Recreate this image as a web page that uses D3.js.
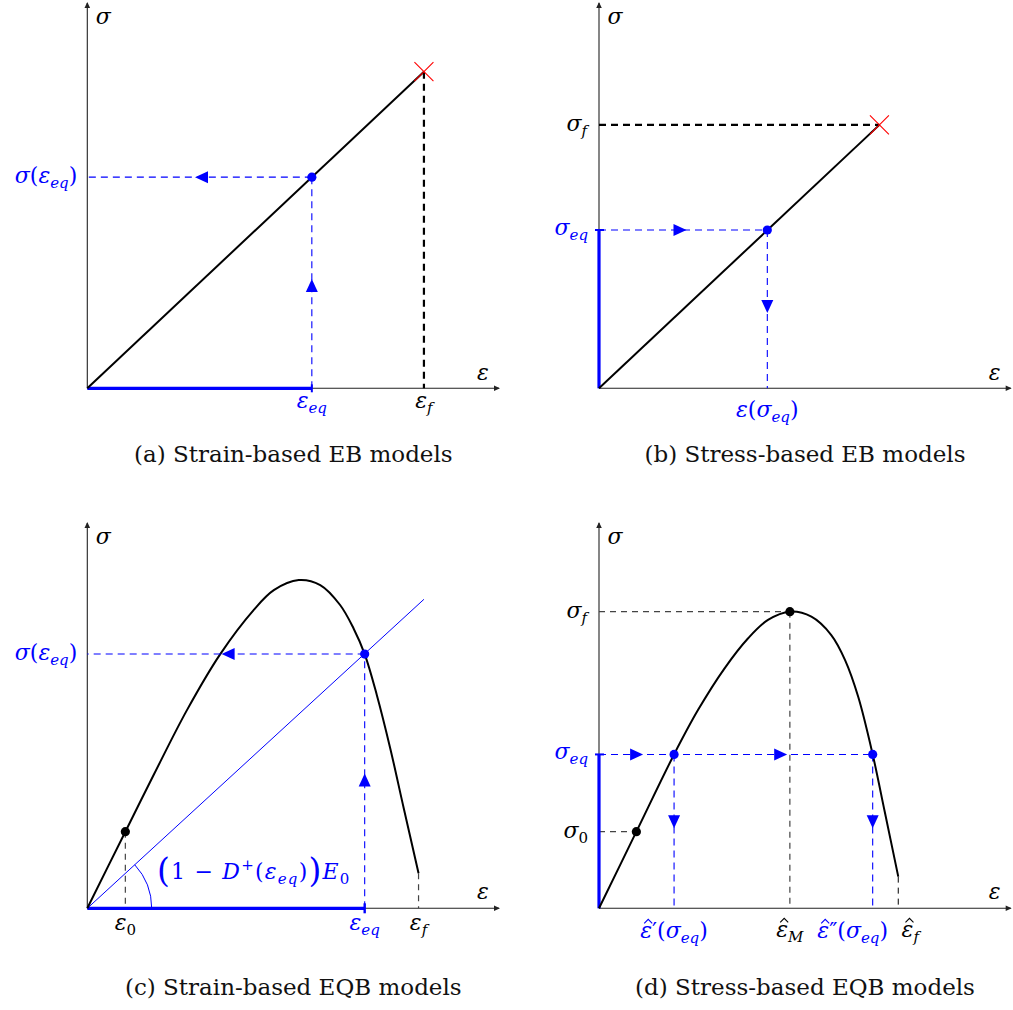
<!DOCTYPE html>
<html>
<head>
<meta charset="utf-8">
<script src="https://cdn.jsdelivr.net/npm/d3@7"></script>
<style>
  body { margin: 0; background: #fff; overflow: hidden; }
  text { font-family: "DejaVu Serif", serif; }
</style>
</head>
<body>
<script>
// values are read off the figure, in (strain, stress) units where the
// EB failure point of panel (a) is (1, 1)

// (a) strain-based EB
const aLine = [[0, 0], [1, 1]];
const aEq = [0.667, 0.667];
// (b) stress-based EB
const bLine = [[0, 0], [0.833, 0.832]];
const bEq = [0.5, 0.5];
// (c) strain-based EQB
const cCurve = [[0, 0], [0.113, 0.242], [0.197, 0.421], [0.296, 0.626], [0.395, 0.803],
  [0.494, 0.942], [0.554, 1.005], [0.628, 1.037], [0.692, 1.021], [0.751, 0.958],
  [0.791, 0.884], [0.824, 0.803], [0.860, 0.674], [0.900, 0.505], [0.940, 0.316],
  [0.984, 0.111]];
const cSecant = [[0, 0], [1.0, 0.976]];
const cEq = [0.824, 0.803];
const cStart = [0.113, 0.242];
// (d) stress-based EQB
const dCurve = [[0, 0], [0.111, 0.242], [0.223, 0.486], [0.294, 0.626], [0.373, 0.758],
  [0.443, 0.853], [0.502, 0.911], [0.567, 0.937], [0.631, 0.921], [0.690, 0.863],
  [0.731, 0.784], [0.770, 0.668], [0.813, 0.486], [0.849, 0.304], [0.889, 0.100]];
const dStart = [0.111, 0.242];
const dPeak = [0.567, 0.937];
const dEq = [[0.223, 0.486], [0.813, 0.486]];

const captions = ["(a) Strain-based EB models", "(b) Stress-based EB models",
  "(c) Strain-based EQB models", "(d) Stress-based EQB models"];

// labels as [text, kind] runs
const lblSigma = [["σ", "i"]];
const lblEps = [["ε", "i"]];
const lblSigmaOfEps = [["σ", "i"], ["(", "r"], ["ε", "i"], ["eq", "sub"], [")", "r"]];
const lblEpsEq = [["ε", "i"], ["eq", "sub"]];
const lblEpsF = [["ε", "i"], ["f", "sub"]];
const lblSigmaF = [["σ", "i"], ["f", "sub"]];
const lblSigmaEq = [["σ", "i"], ["eq", "sub"]];
const lblEpsOfSigma = [["ε", "i"], ["(", "r"], ["σ", "i"], ["eq", "sub"], [")", "r"]];
const lblEps0 = [["ε", "i"], ["0", "subr"]];
const lblSigma0 = [["σ", "i"], ["0", "subr"]];
const lblSecant = [["(", "big"], ["1 − ", "r"], ["D", "i"], ["+", "sup"], ["(", "r"], ["ε", "i"],
  ["eq", "sub"], [")", "r"], [")", "big"], ["E", "i"], ["0", "subr"]];
const lblEpsHat1 = [["ε", "hat"], ["′", "r"], ["(", "r"], ["σ", "i"], ["eq", "sub"], [")", "r"]];
const lblEpsHatM = [["ε", "hat"], ["M", "sub"]];
const lblEpsHat2 = [["ε", "hat"], ["″", "r"], ["(", "r"], ["σ", "i"], ["eq", "sub"], [")", "r"]];
const lblEpsHatF = [["ε", "hat"], ["f", "sub"]];

const BLUE = "#0000ff";
const W = 1013, H = 1010;

const svg = d3.select("body").append("svg")
  .attr("width", W)
  .attr("height", H);

const runKinds = {
  i: {size: 22, italic: true, dy: 0},
  hat: {size: 22, italic: true, dy: 0},
  r: {size: 22, italic: false, dy: 0},
  sub: {size: 15, italic: true, dy: 5},
  subr: {size: 15, italic: false, dy: 5},
  sup: {size: 15, italic: false, dy: -9},
  big: {size: 33, italic: false, dy: 3}
};

function mathLabel(g, x, y, runs, anchor, color, spacing) {
  const t = g.append("text")
    .attr("x", x).attr("y", y)
    .attr("text-anchor", anchor)
    .attr("letter-spacing", spacing || null)
    .attr("fill", color || "#000");
  let shift = 0, idx = 0;
  const hats = [];
  runs.forEach(([txt, kind]) => {
    const k = runKinds[kind];
    t.append("tspan")
      .attr("dy", k.dy - shift)
      .attr("font-size", k.size)
      .attr("font-style", k.italic ? "italic" : "normal")
      .text(txt);
    if (kind === "hat") hats.push(idx);
    idx += txt.length;
    shift = k.dy;
  });
  // circumflex accents drawn over the glyph box
  hats.forEach(i => {
    const b = t.node().getExtentOfChar(i);
    const cx = b.x + b.width / 2 + 2;
    const cy = y - 15;
    g.append("path")
      .attr("d", `M${cx - 4},${cy}L${cx},${cy - 4}L${cx + 4},${cy}`)
      .attr("fill", "none")
      .attr("stroke", color || "#000")
      .attr("stroke-width", 1.1);
  });
  return t;
}

// scales for one panel, origin in pixels
function makeScales(ox, oy) {
  const x = d3.scaleLinear().domain([0, 1.223]).range([ox, ox + 411.7]);
  const y = d3.scaleLinear().domain([0, 1.217]).range([oy, oy - 385.3]);
  return {x, y};
}

function seg(g, x, y, p, q, style) {
  return g.append("line")
    .attr("x1", x(p[0])).attr("y1", y(p[1]))
    .attr("x2", x(q[0])).attr("y2", y(q[1]))
    .attr("stroke", style.color)
    .attr("stroke-width", style.width)
    .attr("stroke-dasharray", style.dash || null);
}

// filled triangle, tip at (px, py), pointing along dir
function arrowHead(g, px, py, dir, len, half, color) {
  const dirs = {up: [0, -1], down: [0, 1], left: [-1, 0], right: [1, 0]};
  const [ux, uy] = dirs[dir];
  const bx = px - ux * len, by = py - uy * len;
  const pts = [[px, py], [bx - uy * half, by + ux * half], [bx + uy * half, by - ux * half]];
  g.append("path")
    .attr("d", "M" + pts.map(p => p.join(",")).join("L") + "Z")
    .attr("fill", color);
}

function axes(g, s) {
  const ax = {color: "#222", width: 1.1};
  seg(g, s.x, s.y, [0, 0], [1.223, 0], ax);
  seg(g, s.x, s.y, [0, 0], [0, 1.217], ax);
  arrowHead(g, s.x(1.223) + 1, s.y(0), "right", 6, 2.8, "#222");
  arrowHead(g, s.x(0), s.y(1.217) - 1, "up", 6, 2.8, "#222");
  mathLabel(g, s.x(0) + 16, s.y(1.217) + 21, lblSigma, "middle");
}

function dot(g, s, p, color) {
  g.append("circle")
    .attr("cx", s.x(p[0])).attr("cy", s.y(p[1]))
    .attr("r", 4.6).attr("fill", color);
}

function cross(g, s, p) {
  const cx = s.x(p[0]), cy = s.y(p[1]), r = 9.5;
  g.append("path")
    .attr("d", `M${cx - r},${cy - r}L${cx + r},${cy + r}M${cx - r},${cy + r}L${cx + r},${cy - r}`)
    .attr("stroke", "red").attr("stroke-width", 1.1).attr("fill", "none");
}

function caption(g, s, text, baseline) {
  g.append("text")
    .attr("x", s.x(0) + 206).attr("y", baseline)
    .attr("text-anchor", "middle")
    .attr("font-size", 23)
    .attr("fill", "#111")
    .text(text);
}

const blueDash = {color: BLUE, width: 1.1, dash: "7,5"};
const blueThick = {color: BLUE, width: 3.2};
const blackDash = {color: "#000", width: 2.2, dash: "7,5"};
const grayDash = {color: "#444", width: 1.2, dash: "6,5"};
const thinDash = {color: "#000", width: 1, dash: "6,5"};
const curveStyle = {color: "#000", width: 2};

const lineGen = s => d3.line()
  .x(d => s.x(d[0]))
  .y(d => s.y(d[1]))
  .curve(d3.curveCatmullRom.alpha(0.5));

//////////// (a) ////////////
(function () {
  const s = makeScales(87.3, 388.3);
  const g = svg.append("g");
  axes(g, s);
  mathLabel(g, s.x(1.223) - 16, s.y(0) - 8, lblEps, "middle");
  seg(g, s.x, s.y, [0, 0], [aEq[0], 0], blueThick);
  g.append("line").attr("x1", s.x(aEq[0])).attr("x2", s.x(aEq[0]))
    .attr("y1", s.y(0) - 4).attr("y2", s.y(0) + 4).attr("stroke", BLUE).attr("stroke-width", 2);
  seg(g, s.x, s.y, aLine[0], aLine[1], curveStyle);
  seg(g, s.x, s.y, [aLine[1][0], aLine[1][1]], [aLine[1][0], 0], blackDash);
  cross(g, s, aLine[1]);
  seg(g, s.x, s.y, [aEq[0], 0], aEq, blueDash);
  arrowHead(g, s.x(aEq[0]), s.y(0.345), "up", 13, 6, BLUE);
  seg(g, s.x, s.y, aEq, [0, aEq[1]], blueDash);
  arrowHead(g, s.x(0.32), s.y(aEq[1]), "left", 13, 6, BLUE);
  dot(g, s, aEq, BLUE);
  mathLabel(g, s.x(aEq[0]), s.y(0) + 20, lblEpsEq, "middle", BLUE);
  mathLabel(g, s.x(aLine[1][0]), s.y(0) + 20, lblEpsF, "middle");
  mathLabel(g, s.x(0) - 10, s.y(aEq[1]) + 6, lblSigmaOfEps, "end", BLUE);
  caption(g, s, captions[0], 462);
})();

//////////// (b) ////////////
(function () {
  const s = makeScales(599, 388.3);
  const g = svg.append("g");
  axes(g, s);
  mathLabel(g, s.x(1.223) - 16, s.y(0) - 8, lblEps, "middle");
  seg(g, s.x, s.y, [0, 0], [0, bEq[1]], blueThick);
  g.append("line").attr("x1", s.x(0) - 4).attr("x2", s.x(0) + 5)
    .attr("y1", s.y(bEq[1])).attr("y2", s.y(bEq[1])).attr("stroke", BLUE).attr("stroke-width", 2);
  seg(g, s.x, s.y, bLine[0], bLine[1], curveStyle);
  seg(g, s.x, s.y, [0, bLine[1][1]], bLine[1], blackDash);
  cross(g, s, bLine[1]);
  seg(g, s.x, s.y, [0, bEq[1]], bEq, blueDash);
  arrowHead(g, s.x(0.26), s.y(bEq[1]), "right", 13, 6, BLUE);
  seg(g, s.x, s.y, bEq, [bEq[0], 0], blueDash);
  arrowHead(g, s.x(bEq[0]), s.y(0.238), "down", 13, 6, BLUE);
  dot(g, s, bEq, BLUE);
  mathLabel(g, s.x(0) - 12, s.y(bLine[1][1]) + 6, lblSigmaF, "end");
  mathLabel(g, s.x(0) - 11, s.y(bEq[1]) + 5, lblSigmaEq, "end", BLUE);
  mathLabel(g, s.x(bEq[0]), s.y(0) + 29, lblEpsOfSigma, "middle", BLUE);
  caption(g, s, captions[1], 462);
})();

//////////// (c) ////////////
(function () {
  const s = makeScales(87.3, 908.3);
  const g = svg.append("g");
  axes(g, s);
  mathLabel(g, s.x(1.223) - 16, s.y(0) - 9, lblEps, "middle");
  const end = cCurve[cCurve.length - 1];
  seg(g, s.x, s.y, cStart, [cStart[0], 0], grayDash);
  seg(g, s.x, s.y, end, [end[0], 0], grayDash);
  seg(g, s.x, s.y, cSecant[0], cSecant[1], {color: BLUE, width: 1});
  // angle arc between the secant and the strain axis
  const ox = s.x(0), oy = s.y(0), r = 64.4;
  const th = Math.atan2(s.y(0) - s.y(cSecant[1][1]), s.x(cSecant[1][0]) - s.x(0));
  g.append("path")
    .attr("d", `M${ox + r},${oy}A${r},${r} 0 0 0 ${ox + r * Math.cos(th)},${oy - r * Math.sin(th)}`)
    .attr("fill", "none").attr("stroke", BLUE).attr("stroke-width", 1);
  seg(g, s.x, s.y, [0, 0], [cEq[0], 0], blueThick);
  g.append("line").attr("x1", s.x(cEq[0])).attr("x2", s.x(cEq[0]))
    .attr("y1", s.y(0) - 5).attr("y2", s.y(0) + 5).attr("stroke", BLUE).attr("stroke-width", 2.4);
  g.append("path").attr("d", lineGen(s)(cCurve))
    .attr("fill", "none").attr("stroke", "#000").attr("stroke-width", 2);
  seg(g, s.x, s.y, [cEq[0], 0], cEq, blueDash);
  arrowHead(g, s.x(cEq[0]), s.y(0.426), "up", 13, 6, BLUE);
  seg(g, s.x, s.y, cEq, [0, cEq[1]], blueDash);
  arrowHead(g, s.x(0.399), s.y(cEq[1]), "left", 13, 6, BLUE);
  dot(g, s, cStart, "#000");
  dot(g, s, cEq, BLUE);
  mathLabel(g, s.x(0) - 10, s.y(cEq[1]) + 6, lblSigmaOfEps, "end", BLUE);
  mathLabel(g, 157, s.y(0) - 29, lblSecant, "start", BLUE, 1.2);
  mathLabel(g, s.x(cStart[0]), s.y(0) + 22, lblEps0, "middle");
  mathLabel(g, s.x(cEq[0]), s.y(0) + 22, lblEpsEq, "middle", BLUE);
  mathLabel(g, s.x(end[0]), s.y(0) + 22, lblEpsF, "middle");
  caption(g, s, captions[2], 995);
})();

//////////// (d) ////////////
(function () {
  const s = makeScales(599, 908.3);
  const g = svg.append("g");
  axes(g, s);
  mathLabel(g, s.x(1.223) - 16, s.y(0) - 9, lblEps, "middle");
  const end = dCurve[dCurve.length - 1];
  seg(g, s.x, s.y, [0, dPeak[1]], dPeak, grayDash);
  seg(g, s.x, s.y, dPeak, [dPeak[0], 0], grayDash);
  seg(g, s.x, s.y, [0, dStart[1]], dStart, grayDash);
  seg(g, s.x, s.y, end, [end[0], 0], thinDash);
  seg(g, s.x, s.y, [0, 0], [0, dEq[0][1]], blueThick);
  g.append("line").attr("x1", s.x(0) - 4).attr("x2", s.x(0) + 5)
    .attr("y1", s.y(dEq[0][1])).attr("y2", s.y(dEq[0][1])).attr("stroke", BLUE).attr("stroke-width", 2);
  seg(g, s.x, s.y, [0, dEq[0][1]], dEq[1], blueDash);
  arrowHead(g, s.x(0.131), s.y(dEq[0][1]), "right", 13, 6, BLUE);
  arrowHead(g, s.x(0.559), s.y(dEq[0][1]), "right", 13, 6, BLUE);
  dEq.forEach(p => {
    seg(g, s.x, s.y, p, [p[0], 0], blueDash);
    arrowHead(g, s.x(p[0]), s.y(0.253), "down", 13, 6, BLUE);
  });
  g.append("path").attr("d", lineGen(s)(dCurve))
    .attr("fill", "none").attr("stroke", "#000").attr("stroke-width", 2);
  dot(g, s, dStart, "#000");
  dot(g, s, dPeak, "#000");
  dEq.forEach(p => dot(g, s, p, BLUE));
  mathLabel(g, s.x(0) - 12, s.y(dPeak[1]) + 6, lblSigmaF, "end");
  mathLabel(g, s.x(0) - 11, s.y(dEq[0][1]) + 5, lblSigmaEq, "end", BLUE);
  mathLabel(g, s.x(0) - 11, s.y(dStart[1]) + 6, lblSigma0, "end");
  mathLabel(g, s.x(dEq[0][0]), s.y(0) + 30, lblEpsHat1, "middle", BLUE);
  mathLabel(g, s.x(dPeak[0]), s.y(0) + 29, lblEpsHatM, "middle");
  mathLabel(g, s.x(dEq[1][0]) - 20, s.y(0) + 30, lblEpsHat2, "middle", BLUE);
  mathLabel(g, s.x(end[0]) + 12, s.y(0) + 29, lblEpsHatF, "middle");
  caption(g, s, captions[3], 995);
})();
</script>
</body>
</html>
